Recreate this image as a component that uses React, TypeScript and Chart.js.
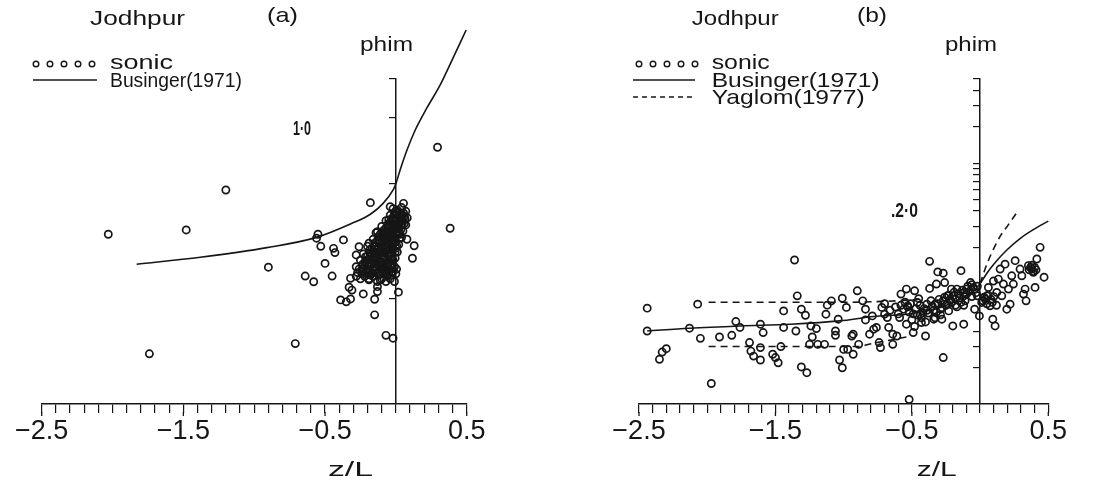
import React, { useEffect, useRef } from 'react';
import { Chart, registerables } from 'chart.js';
Chart.register(...registerables);

const INK = '#161616';
const FONT = '"Liberation Sans", Arial, sans-serif';

// ---------- axes ----------
const X_MIN = -2.5;
const X_MAX = 0.5;
const X_MINOR_STEP = 0.1;
const X_MAJOR = [-2.5, -1.5, -0.5, 0.5];
const X_TICK_LABELS = ['\u22122.5', '\u22121.5', '\u22120.5', '0.5'];
const Y_RANGE_A = [0.1, 3];
const Y_RANGE_B = [0.1, 50];
const Y_TICKS_A = [0.3, 1, 2, 3];
const Y_TICKS_B = [0.2, 0.3, 0.4, 2, 3, 4, 5, 6, 7, 8, 9, 10, 20, 30, 40, 50];

// ---------- panel (a) ----------
const SONIC_A: [number, number][] = [
  [-1.20, 0.937], [-2.03, 0.590], [-1.48, 0.617], [-1.74, 0.169], [-0.90, 0.418], [-0.71, 0.188],
  [-0.55, 0.590], [-0.56, 0.566], [-0.53, 0.520], [-0.44, 0.509], [-0.43, 0.487], [-0.37, 0.556],
  [-0.50, 0.435], [-0.64, 0.381], [-0.58, 0.359], [-0.45, 0.381], [-0.18, 0.821], [-0.04, 0.787],
  [0.054, 0.815], [-0.05, 0.685], [0.383, 0.628], [0.129, 0.523], [0.117, 0.459], [0.078, 0.560],
  [0.018, 0.322], [-0.15, 0.254], [-0.15, 0.299], [-0.13, 0.324], [-0.13, 0.341], [-0.23, 0.316],
  [-0.39, 0.297], [-0.35, 0.291], [-0.32, 0.300], [-0.33, 0.339], [-0.31, 0.329], [-0.32, 0.372],
  [-0.28, 0.420], [-0.28, 0.475], [-0.26, 0.518], [-0.19, 0.366], [-0.11, 0.366], [-0.07, 0.205],
  [-0.02, 0.199], [-0.13, 0.606], [-0.19, 0.537], [0.294, 1.465],
];
const CLUSTER_A: [number, number][] = [
  [-0.02, 0.77], [0.01, 0.76], [0.04, 0.78], [0.07, 0.75],
  [-0.04, 0.72], [-0.01, 0.73], [0.02, 0.71], [0.05, 0.72], [0.08, 0.70],
  [-0.07, 0.68], [-0.04, 0.67], [-0.01, 0.69], [0.02, 0.66], [0.05, 0.68], [0.07, 0.65],
  [-0.10, 0.64], [-0.07, 0.63], [-0.04, 0.64], [-0.01, 0.62], [0.02, 0.63], [0.05, 0.61],
  [-0.14, 0.60], [-0.11, 0.59], [-0.08, 0.60], [-0.05, 0.58], [-0.02, 0.60], [0.01, 0.59], [0.04, 0.57],
  [-0.16, 0.56], [-0.13, 0.55], [-0.10, 0.57], [-0.07, 0.54], [-0.04, 0.56], [-0.01, 0.55], [0.02, 0.53],
  [-0.20, 0.52], [-0.17, 0.51], [-0.14, 0.52], [-0.11, 0.50], [-0.08, 0.52], [-0.05, 0.50], [-0.02, 0.51], [0.01, 0.49],
  [-0.23, 0.48], [-0.20, 0.47], [-0.17, 0.48], [-0.14, 0.46], [-0.11, 0.48], [-0.08, 0.46], [-0.05, 0.47], [-0.02, 0.45],
  [-0.25, 0.45], [-0.22, 0.44], [-0.19, 0.43], [-0.16, 0.45], [-0.13, 0.43], [-0.10, 0.44], [-0.07, 0.42], [-0.04, 0.43], [-0.01, 0.42],
  [-0.26, 0.41], [-0.23, 0.40], [-0.20, 0.41], [-0.17, 0.39], [-0.14, 0.41], [-0.11, 0.39], [-0.08, 0.40], [-0.05, 0.39], [-0.02, 0.40],
  [-0.28, 0.38], [-0.25, 0.37], [-0.22, 0.38], [-0.19, 0.37], [-0.16, 0.38], [-0.13, 0.36], [-0.10, 0.37], [-0.07, 0.36], [-0.04, 0.37], [-0.01, 0.36],
];
const CLUSTER_A2: [number, number][] = [
  [-0.005, 0.745], [0.025, 0.74], [0.055, 0.735],
  [-0.025, 0.70], [0.005, 0.695], [0.035, 0.70], [0.065, 0.69],
  [-0.055, 0.655], [-0.025, 0.65], [0.005, 0.655], [0.035, 0.645], [0.06, 0.66],
  [-0.085, 0.615], [-0.055, 0.61], [-0.025, 0.615], [0.005, 0.605], [0.035, 0.62],
  [-0.125, 0.575], [-0.095, 0.58], [-0.065, 0.57], [-0.035, 0.575], [-0.005, 0.57], [0.025, 0.565],
  [-0.145, 0.54], [-0.115, 0.535], [-0.085, 0.545], [-0.055, 0.53], [-0.025, 0.535], [0.005, 0.525],
  [-0.185, 0.50], [-0.155, 0.495], [-0.125, 0.505], [-0.095, 0.49], [-0.065, 0.495], [-0.035, 0.485], [-0.005, 0.49],
  [-0.215, 0.465], [-0.185, 0.455], [-0.155, 0.465], [-0.125, 0.45], [-0.095, 0.46], [-0.065, 0.45], [-0.035, 0.455], [-0.005, 0.46],
  [-0.235, 0.43], [-0.205, 0.425], [-0.175, 0.43], [-0.145, 0.42], [-0.115, 0.425], [-0.085, 0.415], [-0.055, 0.42], [-0.025, 0.415], [0.005, 0.41],
  [-0.27, 0.395], [-0.24, 0.39], [-0.21, 0.395], [-0.18, 0.385], [-0.15, 0.395], [-0.12, 0.385], [-0.09, 0.39], [-0.06, 0.38], [-0.03, 0.385], [0.0, 0.39],
];
const CLUSTER_A3: [number, number][] = [
  [0.0, 0.75], [0.03, 0.725], [0.06, 0.71], [-0.03, 0.685], [0.0, 0.675], [0.03, 0.68], [0.045, 0.66],
  [-0.06, 0.645], [-0.03, 0.63], [0.0, 0.635], [0.025, 0.60], [-0.09, 0.60], [-0.06, 0.59], [-0.03, 0.595],
  [0.0, 0.585], [0.03, 0.59], [-0.12, 0.555], [-0.09, 0.56], [-0.06, 0.555], [-0.03, 0.55], [0.0, 0.545],
  [-0.15, 0.52], [-0.12, 0.515], [-0.09, 0.51], [-0.06, 0.515], [-0.03, 0.505], [0.0, 0.51],
  [-0.18, 0.485], [-0.15, 0.48], [-0.12, 0.475], [-0.09, 0.47], [-0.06, 0.475], [-0.03, 0.47],
  [-0.21, 0.445], [-0.18, 0.44], [-0.15, 0.435], [-0.12, 0.44], [-0.09, 0.43], [-0.06, 0.435], [-0.03, 0.43],
  [-0.24, 0.41], [-0.21, 0.405], [-0.18, 0.40], [-0.15, 0.405], [-0.12, 0.40], [-0.09, 0.405], [-0.06, 0.40], [-0.03, 0.395],
];
const BUSINGER_A: [number, number][] = [
  [-1.83, 0.431], [-1.38, 0.464], [-0.91, 0.513], [-0.56, 0.571], [-0.32, 0.657], [-0.18, 0.727],
  [-0.09, 0.815], [-0.017, 0.944], [0, 1.0], [0.03, 1.155], [0.078, 1.42], [0.136, 1.75],
  [0.219, 2.21], [0.313, 2.81], [0.404, 3.73], [0.496, 4.99],
];

// ---------- panel (b) ----------
const SONIC_B: [number, number][] = [
  [-2.44, 0.625], [-2.44, 0.404], [-2.35, 0.235], [-2.33, 0.270], [-2.30, 0.288], [-2.07, 0.675],
  [-2.13, 0.426], [-2.05, 0.351], [-1.91, 0.360], [-1.82, 0.372], [-1.79, 0.484], [-1.76, 0.432],
  [-1.97, 0.148], [-1.69, 0.324], [-1.68, 0.275], [-1.66, 0.250], [-1.61, 0.232], [-1.61, 0.460],
  [-1.59, 0.392], [-1.61, 0.294], [-1.52, 0.259], [-1.50, 0.243], [-1.48, 0.220], [-1.46, 0.300],
  [-1.44, 0.593], [-1.44, 0.432], [-1.36, 1.57], [-1.35, 0.404], [-1.34, 0.791], [-1.31, 0.613],
  [-1.28, 0.546], [-1.31, 0.203], [-1.27, 0.182], [-1.25, 0.313], [-1.24, 0.445], [-1.23, 0.360],
  [-1.20, 0.423], [-1.19, 0.313], [-1.14, 0.313], [-1.13, 0.557], [-1.12, 0.662], [-1.09, 0.719],
  [-1.06, 0.372], [-1.06, 0.404], [-1.04, 0.506], [-1.03, 0.232], [-1.01, 0.200], [-1.01, 0.757],
  [-1.00, 0.284], [-0.98, 0.634], [-0.97, 0.284], [-0.94, 0.367], [-0.93, 0.259], [-0.93, 0.380],
  [-0.90, 0.871], [-0.89, 0.313], [-0.86, 0.719], [-0.84, 0.613], [-0.84, 0.499], [-0.81, 0.380],
  [-0.79, 0.539], [-0.78, 0.418], [-0.76, 0.432], [-0.74, 0.324], [-0.73, 0.294], [-0.72, 0.634],
  [-0.70, 0.557], [-0.68, 0.523], [-0.67, 0.432], [-0.64, 0.313], [-0.64, 0.380], [-0.61, 0.367],
  [-0.59, 0.523], [-0.58, 0.818], [-0.56, 0.613], [-0.54, 0.900], [-0.54, 0.460], [-0.53, 0.653],
  [-0.52, 0.109], [-0.49, 0.392], [-0.48, 0.871], [-0.46, 0.697], [-0.44, 0.557], [-0.43, 0.475],
  [-0.40, 0.367], [-0.39, 0.675], [-0.37, 1.53], [-0.37, 0.912], [-0.34, 0.506], [-0.33, 0.675],
  [-0.32, 0.991], [-0.31, 1.25], [-0.29, 0.613], [-0.28, 0.506], [-0.27, 1.22], [-0.27, 0.243],
  [-0.26, 1.02], [-0.24, 0.791], [-0.23, 0.593], [-0.21, 0.900], [-0.20, 0.445], [-0.18, 0.743],
  [-0.17, 0.900], [-0.14, 1.28], [-0.12, 0.791], [-0.12, 0.460], [-0.10, 0.818], [-0.07, 1.02],
  [-0.05, 0.930], [-0.04, 0.613], [-0.02, 0.791], [-0.005, 0.539], [0.012, 0.697], [0.037, 0.743],
  [0.049, 0.791], [0.061, 0.930], [0.073, 0.653], [0.093, 0.506], [0.098, 1.05], [0.110, 0.445],
  [0.122, 0.845], [0.134, 1.09], [0.147, 1.32], [0.159, 0.791], [0.171, 0.991], [0.183, 1.45],
  [0.196, 0.613], [0.208, 0.900], [0.220, 0.675], [0.232, 1.16], [0.244, 0.991], [0.257, 1.55],
  [0.293, 1.32], [0.306, 1.16], [0.318, 0.818], [0.330, 0.900], [0.337, 0.719], [0.354, 1.41],
  [0.379, 1.32], [0.391, 1.24], [0.403, 0.930], [0.416, 1.60], [0.440, 2.00], [0.469, 1.13],
  [-0.56, 0.074],
];
const CLUSTER_B: [number, number][] = [
  [-0.55, 0.70], [-0.52, 0.58], [-0.50, 0.50], [-0.47, 0.62], [-0.45, 0.75], [-0.43, 0.52],
  [-0.41, 0.62], [-0.38, 0.57], [-0.36, 0.72], [-0.34, 0.60], [-0.31, 0.68], [-0.29, 0.55],
  [-0.27, 0.72], [-0.25, 0.66], [-0.23, 0.80], [-0.21, 0.70], [-0.19, 0.85], [-0.17, 0.64],
  [-0.15, 0.76], [-0.13, 0.88], [-0.11, 0.72], [-0.09, 0.95], [-0.60, 0.56], [-0.62, 0.64],
  [-0.66, 0.60], [-0.70, 0.68], [-0.48, 0.44], [-0.40, 0.48], [0.02, 0.72], [0.05, 0.68],
  [0.08, 0.74], [0.06, 0.80], [0.36, 1.30], [0.38, 1.42], [0.40, 1.36], [0.39, 1.26],
  [-0.53, 0.64], [-0.49, 0.56], [-0.44, 0.66], [-0.42, 0.57], [-0.35, 0.65], [-0.32, 0.58],
  [-0.28, 0.63], [-0.26, 0.77], [-0.22, 0.74], [-0.20, 0.79], [-0.16, 0.82], [-0.14, 0.70],
  [-0.12, 0.84], [-0.10, 0.90], [-0.08, 0.86], [-0.06, 0.98], [-0.04, 0.90], [-0.02, 0.95],
  [-0.58, 0.66], [-0.51, 0.68], [-0.46, 0.55], [-0.39, 0.60], [-0.33, 0.52], [-0.30, 0.74],
  [-0.24, 0.68], [-0.18, 0.66], [-0.12, 0.66], [-0.06, 0.78], [-0.03, 0.84], [0.03, 0.77],
  [0.09, 0.70], [0.12, 0.66], [0.10, 0.78], [0.37, 1.36], [0.41, 1.30],
];
const BUSINGER_B: [number, number][] = [
  [-2.44, 0.404], [-2.13, 0.426], [-1.76, 0.445], [-1.39, 0.460], [-1.03, 0.490], [-0.78, 0.533],
  [-0.54, 0.557], [-0.29, 0.634], [-0.15, 0.74], [-0.08, 0.83], [-0.03, 0.91], [0, 1.0],
  [0.05, 1.22], [0.1, 1.45], [0.2, 1.92], [0.3, 2.4], [0.4, 2.85], [0.5, 3.3],
];
const YAGLOM_B_UPPER: [number, number][] = [[-1.99, 0.70], [-1.0, 0.70], [-0.6, 0.72], [-0.45, 0.74]];
const YAGLOM_B_LOWER: [number, number][] = [[-1.99, 0.30], [-0.9, 0.30], [-0.78, 0.32], [-0.54, 0.36]];
const YAGLOM_B_STABLE: [number, number][] = [[0, 1.0], [0.05, 1.45], [0.1, 1.95], [0.15, 2.5], [0.2, 3.0], [0.27, 3.9]];

// ---------- helpers ----------
const pts = (arr: [number, number][]) => arr.map(([x, y]) => ({ x, y }));

type TextItem = { text: string; x: number; y: number; size: number; w: number; bold?: boolean };

function drawText(ctx: CanvasRenderingContext2D, t: TextItem) {
  ctx.save();
  ctx.font = `${t.bold ? 'bold ' : ''}${t.size}px ${FONT}`;
  ctx.fillStyle = INK;
  ctx.textBaseline = 'alphabetic';
  ctx.textAlign = 'left';
  const m = ctx.measureText(t.text).width || 1;
  ctx.translate(t.x, t.y);
  ctx.scale(t.w / m, 1);
  ctx.fillText(t.text, 0, 0);
  ctx.restore();
}

type LegendCfg = {
  circles: number[];
  circleY: number;
  lines: { x1: number; x2: number; y: number; dash: number[] }[];
};

function makeDecor(texts: TextItem[], legend: LegendCfg) {
  return {
    id: 'decor',
    afterDraw(chart: any) {
      const ctx: CanvasRenderingContext2D = chart.ctx;
      const xs = chart.scales.x;
      ctx.save();
      ctx.strokeStyle = INK;
      ctx.lineWidth = 1.3;
      for (const v of X_MAJOR) {
        const px = xs.getPixelForValue(v);
        ctx.beginPath();
        ctx.moveTo(px, xs.top + 8);
        ctx.lineTo(px, xs.top + 12);
        ctx.stroke();
      }
      ctx.lineWidth = 1.4;
      for (const cx of legend.circles) {
        ctx.beginPath();
        ctx.arc(cx, legend.circleY, 2.8, 0, Math.PI * 2);
        ctx.stroke();
      }
      for (const l of legend.lines) {
        ctx.setLineDash(l.dash);
        ctx.beginPath();
        ctx.moveTo(l.x1, l.y);
        ctx.lineTo(l.x2, l.y);
        ctx.stroke();
      }
      ctx.setLineDash([]);
      for (const t of texts) drawText(ctx, t);
      ctx.restore();
    },
  };
}

const X_TICK_VALUES = Array.from({ length: Math.round((X_MAX - X_MIN) / X_MINOR_STEP) + 1 }, (_, i) =>
  Math.round((X_MIN + i * X_MINOR_STEP) * 10) / 10
);

function xScale() {
  return {
    type: 'linear',
    position: 'bottom',
    min: X_MIN,
    max: X_MAX,
    afterFit: (s: any) => {
      s.height = 83;
    },
    afterBuildTicks: (s: any) => {
      s.ticks = X_TICK_VALUES.map((v) => ({ value: v }));
    },
    ticks: {
      autoSkip: false,
      maxRotation: 0,
      minRotation: 0,
      padding: 2,
      color: INK,
      font: { size: 27, family: FONT },
      callback: (v: number) => {
        const i = X_MAJOR.findIndex((m) => Math.abs(m - v) < 1e-6);
        return i >= 0 ? X_TICK_LABELS[i] : '';
      },
    },
    grid: { drawOnChartArea: false, drawTicks: true, tickLength: 9, color: INK, lineWidth: 1.2 },
    border: { display: true, color: INK, width: 1.5 },
  };
}

function yScale(range: number[], ticks: number[]) {
  return {
    type: 'logarithmic',
    position: { x: 0 },
    min: range[0],
    max: range[1],
    afterBuildTicks: (s: any) => {
      s.ticks = ticks.map((v) => ({ value: v }));
    },
    ticks: { display: false },
    grid: { drawOnChartArea: false, drawTicks: true, tickLength: 6, color: INK, lineWidth: 1.2 },
    border: { display: true, color: INK, width: 1.5 },
  };
}

const scatterStyle = {
  showLine: false,
  pointRadius: 3.6,
  pointBorderWidth: 1.7,
  pointBorderColor: INK,
  pointBackgroundColor: 'rgba(0,0,0,0)',
  clip: false,
};

const lineStyle = (dash: number[]) => ({
  type: 'line',
  showLine: true,
  borderColor: INK,
  borderWidth: 1.6,
  borderDash: dash,
  pointRadius: 0,
  fill: false,
  cubicInterpolationMode: 'monotone',
  clip: false,
});

function configA(): any {
  return {
    type: 'scatter',
    data: {
      datasets: [
        { label: 'sonic', data: pts([...SONIC_A, ...CLUSTER_A, ...CLUSTER_A2, ...CLUSTER_A3]), ...scatterStyle },
        { label: 'Businger(1971)', data: pts(BUSINGER_A), ...lineStyle([]) },
      ],
    },
    options: {
      responsive: false,
      animation: false,
      events: [],
      layout: { padding: { left: 41.7, right: 80.3, top: 78.7, bottom: 0 } },
      plugins: { legend: { display: false }, tooltip: { enabled: false } },
      scales: { x: xScale(), y: yScale(Y_RANGE_A, Y_TICKS_A) },
    },
    plugins: [
      makeDecor(
        [
          { text: 'Jodhpur', x: 90, y: 25, size: 21, w: 95 },
          { text: '(a)', x: 267, y: 22, size: 21, w: 31 },
          { text: 'phim', x: 360, y: 51, size: 21, w: 53 },
          { text: 'sonic', x: 110, y: 69, size: 21, w: 63 },
          { text: 'Businger(1971)', x: 110, y: 87, size: 21, w: 132 },
          { text: '1\u00b70', x: 293, y: 135, size: 20, w: 18, bold: true },
          { text: 'z/L', x: 328, y: 476, size: 20, w: 45 },
        ],
        { circles: [36, 50, 64, 78, 92], circleY: 64, lines: [{ x1: 33, x2: 97, y: 80, dash: [] }] }
      ),
    ],
  };
}

const OFF_B = 547;
function configB(): any {
  return {
    type: 'scatter',
    data: {
      datasets: [
        { label: 'sonic', data: pts([...SONIC_B, ...CLUSTER_B]), ...scatterStyle },
        { label: 'Businger(1971)', data: pts(BUSINGER_B), ...lineStyle([]) },
        { label: 'Yaglom(1977)', data: pts(YAGLOM_B_UPPER), ...lineStyle([7, 5]) },
        { label: 'Yaglom(1977) low', data: pts(YAGLOM_B_LOWER), ...lineStyle([7, 5]) },
        { label: 'Yaglom(1977) stable', data: pts(YAGLOM_B_STABLE), ...lineStyle([7, 5]) },
      ],
    },
    options: {
      responsive: false,
      animation: false,
      events: [],
      layout: { padding: { left: 639 - OFF_B, right: OFF_B + 548 - 1048.3, top: 79, bottom: 0 } },
      plugins: { legend: { display: false }, tooltip: { enabled: false } },
      scales: { x: xScale(), y: yScale(Y_RANGE_B, Y_TICKS_B) },
    },
    plugins: [
      makeDecor(
        [
          { text: 'Jodhpur', x: 691.7 - OFF_B, y: 25, size: 21, w: 87 },
          { text: '(b)', x: 857 - OFF_B, y: 22, size: 21, w: 30 },
          { text: 'phim', x: 945 - OFF_B, y: 51, size: 21, w: 52 },
          { text: 'sonic', x: 711.7 - OFF_B, y: 69, size: 21, w: 58 },
          { text: 'Businger(1971)', x: 711.7 - OFF_B, y: 87, size: 21, w: 168 },
          { text: 'Yaglom(1977)', x: 711.7 - OFF_B, y: 104, size: 21, w: 153 },
          { text: '.2\u00b70', x: 891 - OFF_B, y: 217, size: 20, w: 27, bold: true },
          { text: 'z/L', x: 916.7 - OFF_B, y: 476, size: 20, w: 40 },
        ],
        {
          circles: [639, 653, 667, 681, 695].map((v) => v - OFF_B),
          circleY: 64,
          lines: [
            { x1: 633 - OFF_B, x2: 695 - OFF_B, y: 80, dash: [] },
            { x1: 633 - OFF_B, x2: 695 - OFF_B, y: 97, dash: [5, 4] },
          ],
        }
      ),
    ],
  };
}

function Panel({ make, left, width }: { make: () => any; left: number; width: number }) {
  const ref = useRef<HTMLCanvasElement>(null);
  useEffect(() => {
    const chart = new Chart(ref.current as HTMLCanvasElement, make());
    return () => chart.destroy();
  }, []);
  return (
    <canvas
      ref={ref}
      width={width}
      height={487}
      style={{ position: 'absolute', left, top: 0, width, height: 487 }}
    />
  );
}

export default function App() {
  return (
    <div style={{ position: 'fixed', left: 0, top: 0, width: 1095, height: 487, background: '#fff' }}>
      <Panel make={configA} left={0} width={547} />
      <Panel make={configB} left={OFF_B} width={548} />
    </div>
  );
}
